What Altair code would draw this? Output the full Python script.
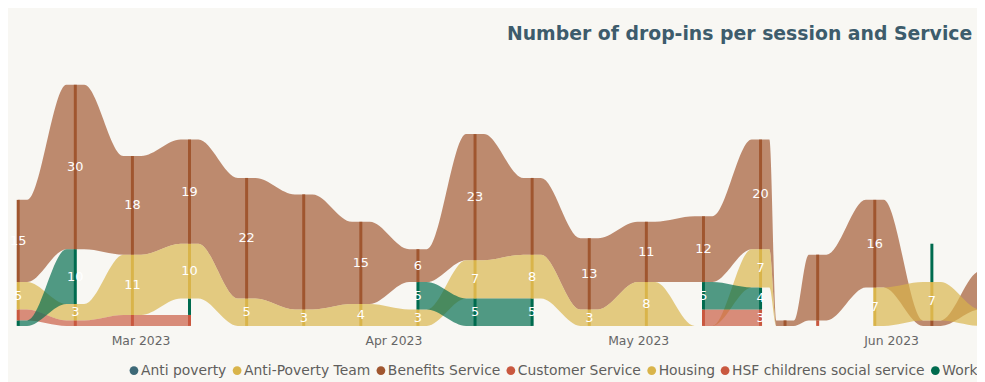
import altair as alt
import pandas as pd

# ---- data ----
sessions = ["2023-02-14", "2023-02-21", "2023-02-28", "2023-03-07", "2023-03-14",
            "2023-03-21", "2023-03-28", "2023-04-04", "2023-04-11", "2023-04-18",
            "2023-04-25", "2023-05-02", "2023-05-09", "2023-05-16", "2023-05-19",
            "2023-05-23", "2023-05-30", "2023-06-06", "2023-06-13"]

series_names = ["Anti poverty", "Anti-Poverty Team", "Benefits Service", "Customer Service",
                "Housing", "HSF childrens social service", "Work"]
series_colors = ["#3D6977", "#D9B44A", "#A0562F", "#C9583F", "#D9B44A", "#C9583F", "#006B4E"]

benefits = [15, 30, 18, 19, 22, 21, 15, 6, 23, 14, 13, 11, 12, 20, 1, 12, 16, 1, 7]
housing = [5, 3, 11, 10, 5, 3, 4, 3, 7, 8, 3, 8, 0, 7, 0, None, 7, 7, 3]
customer = [2, 1, 2, 2, None, None, None, None, None, None, None, None, 3, 3, None, 1, None, None, None]
work = [1, 10, None, 3, None, None, None, 5, 5, 5, None, None, 5, 4, None, None, None, 7, None]

series_values = {
    "Benefits Service": benefits,
    "Housing": housing,
    "Customer Service": customer,
    "Work": work,
}

# labels that the reference does not show (incl. the session just past the right edge)
hidden_labels = {
    "Benefits Service": ["2023-03-21", "2023-04-18", "2023-05-19", "2023-05-23", "2023-06-06", "2023-06-13"],
    "Customer Service": ["2023-02-14", "2023-02-21", "2023-02-28", "2023-03-07", "2023-05-09", "2023-05-23"],
    "Work": ["2023-02-14", "2023-03-07", "2023-06-06"],
    "Housing": ["2023-06-13"],
}

tick_dates = [(2023, 3, 1), (2023, 4, 1), (2023, 5, 1), (2023, 6, 1)]

# ---- ribbon stacking: at every session the smallest value sits at the bottom ----
dates = pd.to_datetime(sessions)
rows = []
for i, d in enumerate(dates):
    present = [(series_names.index(s), s, v[i]) for s, v in series_values.items() if v[i] is not None]
    present.sort(key=lambda t: (t[2], t[0]))
    base = 0
    for idx, s, v in present:
        rows.append(dict(series=s, date=d, i=i, value=v, y0=base, y1=base + v,
                         show=(v > 0 and sessions[i] not in hidden_labels[s])))
        base += v
stack = pd.DataFrame(rows)

FLAT = pd.Timedelta(hours=26)
rib_rows = []
for s, vals in series_values.items():
    runs, run = [], []
    for i, v in enumerate(vals):
        if v is None:
            if run:
                runs.append(run)
            run = []
        else:
            run.append(i)
    if run:
        runs.append(run)
    for rid, run in enumerate(runs):
        if len(run) < 2:
            continue
        for k in run:
            rec = stack[(stack.series == s) & (stack.i == k)].iloc[0]
            offs = ([pd.Timedelta(0)] if k == run[0] else [-FLAT]) + \
                   ([pd.Timedelta(0)] if k == run[-1] else [FLAT])
            for o in offs:
                rib_rows.append(dict(series=s, run=f"{s}-{rid}", date=rec.date + o,
                                     y0=rec.y0, y1=rec.y1))
ribbons = pd.DataFrame(rib_rows)

# ---- scales ----
xscale = alt.Scale(domain=[alt.DateTime(year=2023, month=2, date=12, hours=18),
                           alt.DateTime(year=2023, month=6, date=11, hours=12, minutes=45)])
yscale = alt.Scale(domain=[0, 48.5], nice=False, zero=True)
cscale = alt.Scale(domain=series_names, range=series_colors)

xaxis = alt.Axis(values=[alt.DateTime(year=y, month=m, date=dd) for y, m, dd in tick_dates],
                 format="%b %Y", title=None, grid=False, domain=False, ticks=False,
                 labelFont="DejaVu Sans", labelFontSize=12.5, labelColor="#666666",
                 labelPadding=9)
xenc = alt.X("date:T", scale=xscale, axis=xaxis)

legend = alt.Legend(title=None, orient="none", legendX=120, legendY=306, direction="horizontal",
                    symbolType="circle", symbolSize=78, symbolOpacity=1, symbolStrokeWidth=0,
                    labelFont="DejaVu Sans", labelFontSize=14, labelColor="#605E5C",
                    labelOffset=0, columnPadding=3, labelLimit=400)

layers = []
for n, s in enumerate(series_values):
    layers.append(
        alt.Chart(ribbons[ribbons.series == s]).mark_area(
            interpolate="monotone", opacity=0.68, clip=True
        ).encode(
            x=xenc,
            y=alt.Y("y1:Q", scale=yscale, axis=None),
            y2="y0:Q",
            color=alt.Color("series:N", scale=cscale, legend=legend),
            detail="run:N",
        )
    )

columns = alt.Chart(stack[stack.value > 0]).mark_rule(strokeWidth=3, clip=True).encode(
    x=xenc,
    y=alt.Y("y0:Q", scale=yscale, axis=None),
    y2="y1:Q",
    color=alt.Color("series:N", scale=cscale, legend=None),
)

labels = alt.Chart(stack[stack.show]).transform_calculate(
    mid="(datum.y0 + datum.y1) / 2"
).mark_text(color="white", font="DejaVu Sans", fontSize=13, baseline="middle", clip=True).encode(
    x=xenc,
    y=alt.Y("mid:Q", scale=yscale, axis=None),
    text="value:Q",
)

chart = alt.layer(*layers, columns, labels).properties(
    width=977, height=268,
    title=alt.TitleParams(text="Number of drop-ins per session and Service", anchor="start",
                          dx=503, dy=-4, font="DejaVu Sans", fontSize=19, fontWeight="bold",
                          color="#3D5C6C", offset=12),
    background="#F8F7F3",
    padding={"left": 0, "top": 51, "right": 0, "bottom": 55},
    autosize=alt.AutoSizeParams(type="none"),
).configure_view(stroke=None)

chart.save("out.html", embed_options={"renderer": "svg", "actions": False})
